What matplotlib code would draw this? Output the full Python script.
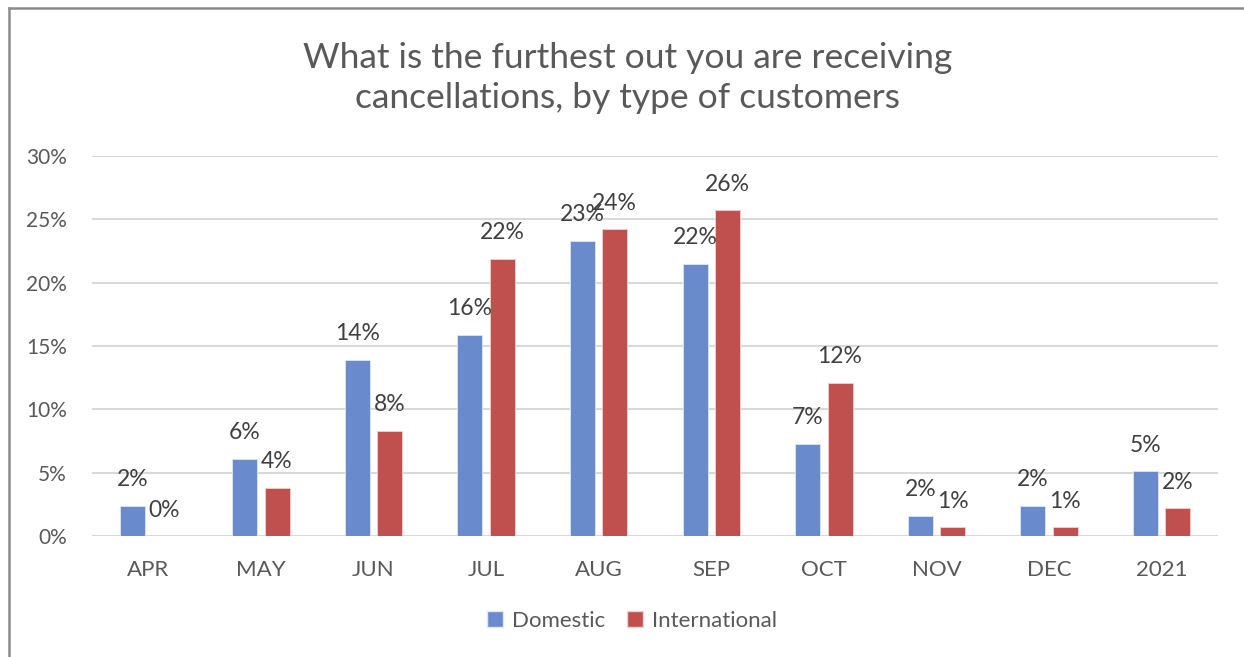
import matplotlib
matplotlib.use("Agg")
import matplotlib.pyplot as plt
from matplotlib.patches import Patch
from matplotlib.lines import Line2D
import numpy as np

categories = ["APR", "MAY", "JUN", "JUL", "AUG", "SEP", "OCT", "NOV", "DEC", "2021"]
domestic = [2.4, 6.1, 13.9, 15.9, 23.3, 21.5, 7.3, 1.6, 2.4, 5.1]
international = [0.0, 3.8, 8.3, 21.9, 24.2, 25.7, 12.1, 0.7, 0.7, 2.2]
domestic_labels = ["2%", "6%", "14%", "16%", "23%", "22%", "7%", "2%", "2%", "5%"]
international_labels = ["0%", "4%", "8%", "22%", "24%", "26%", "12%", "1%", "1%", "2%"]
yticks = [0, 5, 10, 15, 20, 25, 30]
ytick_labels = ["0%", "5%", "10%", "15%", "20%", "25%", "30%"]
series_names = ["Domestic", "International"]
title = "What is the furthest out you are receiving\ncancellations, by type of customers"

plt.rcParams['font.family'] = ['Lato', 'DejaVu Sans']
TXT = "#595959"
BLUE = "#6a8bcb"
RED = "#c0504d"
GRID = "#d9d9d9"

W, H = 1244, 657
fig = plt.figure(figsize=(W / 100, H / 100), dpi=100)
ax = fig.add_axes([92 / W, (H - 536) / H, (1218 - 92) / W, (536 - 156) / H])

x = np.arange(len(categories))
bw = 0.222
off = 0.143
b1 = ax.bar(x - off, domestic, bw, color=BLUE, edgecolor="#dfe6f4", linewidth=0.6, zorder=3)
b2 = ax.bar(x + off, international, bw, color=RED, edgecolor="#f0d0cf", linewidth=0.6, zorder=3)

for bars, labels in ((b1, domestic_labels), (b2, international_labels)):
    for rect, lab in zip(bars, labels):
        ax.annotate(lab, (rect.get_x() + rect.get_width() / 2, rect.get_height()),
                    xytext=(0, 18.7), textcoords="offset points",
                    ha="center", va="center", fontsize=16.5, color="#404040", zorder=4)

ax.set_xlim(-0.5, len(categories) - 0.5)
ax.set_ylim(0, 30)
ax.set_yticks(yticks)
ax.set_yticklabels(ytick_labels)
ax.set_xticks(x)
ax.set_xticklabels(categories)
ax.tick_params(axis="y", length=0, pad=18, labelsize=15, labelcolor=TXT)
ax.tick_params(axis="x", length=0, pad=17, labelsize=16, labelcolor=TXT)
for s in ax.spines.values():
    s.set_visible(False)
ax.yaxis.grid(True, color=GRID, linewidth=1.5, zorder=0)
ax.set_axisbelow(True)

fig.text(628 / W, 1 - 78 / H, title, ha="center", va="center", fontsize=25.5,
         color=TXT, linespacing=1.3)

handles = [Patch(facecolor=BLUE, edgecolor="#dfe6f4"), Patch(facecolor=RED, edgecolor="#f0d0cf")]
fig.legend(handles, series_names, loc="center", bbox_to_anchor=(632 / W, 1 - 621 / H),
           ncol=2, frameon=False, fontsize=16, labelcolor=TXT,
           handlelength=0.7, handleheight=0.7, handletextpad=0.4, columnspacing=1.0)

# outer chart frame (left and top edges visible)
fig.add_artist(Line2D([9 / W, 9 / W], [0, 1 - 8 / H], transform=fig.transFigure,
                      color="#8c8c8c", linewidth=1.8))
fig.add_artist(Line2D([9 / W, 1], [1 - 8 / H, 1 - 8 / H], transform=fig.transFigure,
                      color="#8c8c8c", linewidth=1.8))

fig.savefig("out.png", dpi=100, facecolor="white")
